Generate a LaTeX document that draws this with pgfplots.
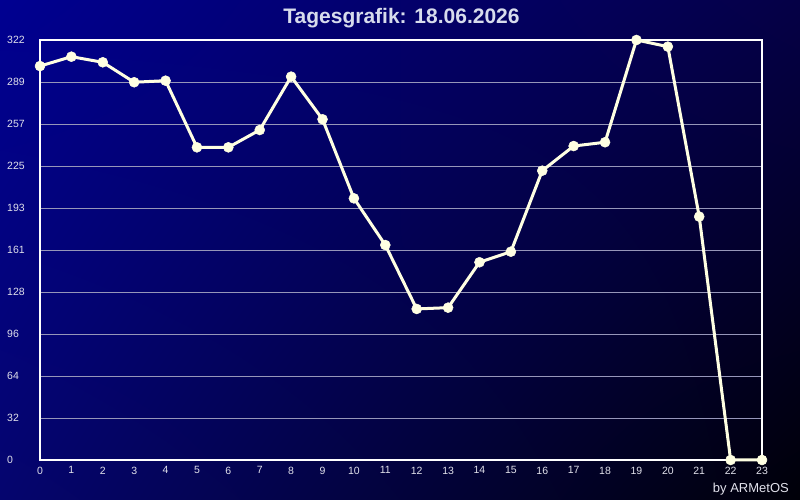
\documentclass[border=0pt]{standalone}
\usepackage{pgfplots}
\pgfplotsset{compat=1.18}
\usetikzlibrary{shadings}
\usepackage{fontspec}
\setmainfont{Liberation Sans}
\definecolor{cream}{RGB}{255,255,226}
\definecolor{gridc}{RGB}{150,150,185}
\definecolor{labc}{RGB}{225,225,235}
\definecolor{titc}{RGB}{215,220,236}
\definecolor{bgUL}{RGB}{0,0,145}
\definecolor{bgUR}{RGB}{5,0,70}
\definecolor{bgLL}{RGB}{5,5,110}
\definecolor{bgLR}{RGB}{0,0,8}
\begin{document}
\begin{tikzpicture}[x=1bp,y=1bp]
\shade[shading=bilinear interpolation, upper left=bgUL, upper right=bgUR, lower left=bgLL, lower right=bgLR] (0,0) rectangle (800,500);
\begin{axis}[
  at={(40bp,40bp)}, anchor=south west,
  scale only axis, width=722bp, height=420bp,
  xmin=0, xmax=23, ymin=0, ymax=322,
  clip=false,
  axis line style={white, line width=1.3bp},
  major tick length=0,
  xtick={0,1,...,23},
  ytick={0,32.2,64.4,96.6,128.8,161,193.2,225.4,257.6,289.8,322},
  yticklabels={0,32,64,96,128,161,193,225,257,289,322},
  ymajorgrids, grid style={gridc, line width=0.8bp},
  /pgf/number format/assume math mode=true,
  ticklabel style={font=\fontsize{10.5bp}{12bp}\selectfont, text=labc, inner sep=0pt},
  yticklabel style={anchor=west, xshift=-33bp},
  xticklabel style={anchor=north, yshift=-6.5bp},
]
\addplot[cream, line width=3bp, mark=*, mark size=5bp, mark options={fill=cream, draw=cream, line width=0.5bp}] coordinates {
(0,302.0) (1,309.2) (2,304.9) (3,289.6) (4,290.8) (5,239.7) (6,239.7) (7,253.0)
(8,293.9) (9,261.2) (10,200.6) (11,164.8) (12,115.8) (13,116.8) (14,151.6) (15,159.7)
(16,221.8) (17,240.7) (18,243.6) (19,322.0) (20,316.9) (21,186.6) (22,0) (23,0)
};
\end{axis}
\node[anchor=base, text=titc, inner sep=0pt, font=\bfseries\fontsize{21bp}{25bp}\selectfont] at (401.5,476) {Tagesgrafik: 18.06.2026};
\node[anchor=base east, text=labc, inner sep=0pt, font=\fontsize{13bp}{15bp}\selectfont] at (789,7.3) {by ARMetOS};
\end{tikzpicture}
\end{document}
